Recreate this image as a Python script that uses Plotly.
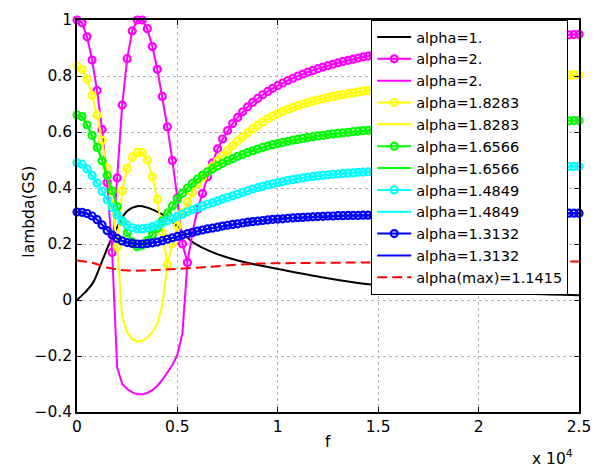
import plotly.graph_objects as go

# frequency samples (Hz) for marker curves, step 250
F = list(range(0, 25001, 250))

MAG_UP = [1.000, 0.990, 0.940, 0.857, 0.748, 0.609, 0.420, 0.170, 0.436, 0.696,
          0.862, 0.961, 1.000, 1.000, 0.969, 0.905, 0.824, 0.727, 0.618, 0.498,
          0.364, 0.200, 0.134, 0.240, 0.324, 0.380, 0.440, 0.490, 0.540, 0.575,
          0.605, 0.630, 0.652, 0.672, 0.690, 0.706, 0.720, 0.733, 0.745, 0.756,
          0.766, 0.775, 0.784, 0.792, 0.800, 0.807, 0.814, 0.820, 0.826, 0.832,
          0.837, 0.842, 0.847, 0.852, 0.856, 0.860, 0.864, 0.868, 0.871, 0.875,
          0.878, 0.881, 0.884, 0.887, 0.890, 0.893, 0.895, 0.898, 0.900, 0.903,
          0.905, 0.907, 0.909, 0.911, 0.913, 0.915, 0.917, 0.919, 0.921, 0.922,
          0.924, 0.926, 0.927, 0.929, 0.930, 0.932, 0.933, 0.934, 0.936, 0.937,
          0.938, 0.939, 0.941, 0.942, 0.943, 0.944, 0.945, 0.946, 0.947, 0.948, 0.949]
MAG_LOW_F = F[7:23]
MAG_LOW = [0.170, -0.240, -0.300, -0.318, -0.330, -0.337, -0.337, -0.332,
           -0.322, -0.306, -0.285, -0.260, -0.232, -0.195, -0.120, 0.134]

YEL_UP = [0.836, 0.824, 0.789, 0.731, 0.661, 0.570, 0.470, 0.340, 0.190, 0.390,
          0.470, 0.510, 0.527, 0.527, 0.500, 0.440, 0.360, 0.240, 0.126, 0.200,
          0.265, 0.312, 0.350, 0.384, 0.415, 0.437, 0.458, 0.478, 0.497, 0.516,
          0.534, 0.551, 0.567, 0.582, 0.597, 0.611, 0.624, 0.636, 0.647, 0.657,
          0.666, 0.674, 0.681, 0.688, 0.694, 0.700, 0.705, 0.710, 0.715, 0.719,
          0.723, 0.727, 0.731, 0.734, 0.737, 0.740, 0.743, 0.746, 0.748, 0.751,
          0.753, 0.755, 0.757, 0.759, 0.761, 0.763, 0.765, 0.767, 0.768, 0.770,
          0.772, 0.773, 0.775, 0.776, 0.778, 0.779, 0.780, 0.782, 0.783, 0.784,
          0.785, 0.787, 0.788, 0.789, 0.790, 0.791, 0.792, 0.793, 0.794, 0.795,
          0.796, 0.797, 0.798, 0.799, 0.800, 0.800, 0.801, 0.802, 0.803, 0.804, 0.804]
YEL_LOW_F = F[8:19]
YEL_LOW = [0.190, -0.060, -0.115, -0.140, -0.148, -0.146, -0.135, -0.115, -0.085, -0.020, 0.126]

GRN = [0.661, 0.655, 0.625, 0.588, 0.545, 0.497, 0.445, 0.390, 0.333, 0.281,
       0.240, 0.208, 0.190, 0.196, 0.212, 0.232, 0.256, 0.283, 0.310, 0.336,
       0.360, 0.381, 0.400, 0.417, 0.432, 0.446, 0.458, 0.469, 0.479, 0.488,
       0.497, 0.505, 0.513, 0.520, 0.527, 0.533, 0.539, 0.545, 0.550, 0.555,
       0.559, 0.563, 0.567, 0.571, 0.574, 0.577, 0.580, 0.583, 0.586, 0.588,
       0.591, 0.593, 0.595, 0.597, 0.599, 0.601, 0.603, 0.605, 0.606, 0.608,
       0.609, 0.611, 0.612, 0.613, 0.615, 0.616, 0.617, 0.618, 0.619, 0.620,
       0.621, 0.622, 0.623, 0.624, 0.625, 0.626, 0.627, 0.628, 0.628, 0.629,
       0.630, 0.631, 0.631, 0.632, 0.633, 0.633, 0.634, 0.635, 0.635, 0.636,
       0.636, 0.637, 0.637, 0.638, 0.638, 0.639, 0.639, 0.640, 0.640, 0.641, 0.641]

CYN = [0.490, 0.485, 0.468, 0.445, 0.418, 0.388, 0.358, 0.330, 0.304, 0.283,
       0.268, 0.258, 0.254, 0.254, 0.257, 0.262, 0.268, 0.275, 0.283, 0.291,
       0.299, 0.307, 0.315, 0.322, 0.329, 0.336, 0.342, 0.348, 0.354, 0.360,
       0.366, 0.372, 0.378, 0.384, 0.390, 0.396, 0.401, 0.406, 0.411, 0.415,
       0.419, 0.423, 0.427, 0.430, 0.433, 0.436, 0.439, 0.441, 0.443, 0.445,
       0.447, 0.449, 0.450, 0.452, 0.453, 0.454, 0.456, 0.457, 0.458, 0.459,
       0.460, 0.461, 0.462, 0.462, 0.463, 0.464, 0.465, 0.465, 0.466, 0.467,
       0.467, 0.468, 0.468, 0.469, 0.469, 0.470, 0.470, 0.471, 0.471, 0.472,
       0.472, 0.472, 0.473, 0.473, 0.474, 0.474, 0.474, 0.475, 0.475, 0.475,
       0.475, 0.476, 0.476, 0.476, 0.476, 0.477, 0.477, 0.477, 0.477, 0.477, 0.477]

BLU = [0.314, 0.313, 0.309, 0.300, 0.287, 0.268, 0.248, 0.232, 0.220, 0.211,
       0.205, 0.202, 0.200, 0.200, 0.202, 0.204, 0.207, 0.212, 0.217, 0.222,
       0.227, 0.232, 0.237, 0.242, 0.246, 0.250, 0.254, 0.257, 0.260, 0.264,
       0.267, 0.270, 0.272, 0.275, 0.278, 0.280, 0.282, 0.284, 0.286, 0.288,
       0.289, 0.290, 0.292, 0.293, 0.294, 0.295, 0.296, 0.297, 0.298, 0.299,
       0.300, 0.300, 0.301, 0.301, 0.302, 0.302, 0.302, 0.303, 0.303, 0.303,
       0.304, 0.304, 0.304, 0.305, 0.305, 0.305, 0.305, 0.306, 0.306, 0.306,
       0.306, 0.307, 0.307, 0.307, 0.307, 0.307, 0.308, 0.308, 0.308, 0.308,
       0.308, 0.308, 0.309, 0.309, 0.309, 0.309, 0.309, 0.309, 0.309, 0.309,
       0.310, 0.310, 0.310, 0.310, 0.310, 0.310, 0.310, 0.310, 0.310, 0.310, 0.310]

BLACK_F = [0, 400, 800, 1200, 1600, 2000, 2500, 3000, 3500, 4000, 4500, 5000,
           5700, 6500, 7300, 8000, 9000, 10000, 12000, 14400, 17000, 20000, 22500, 25000]
BLACK_V = [0.0, 0.027, 0.062, 0.13, 0.2, 0.26, 0.318, 0.335, 0.33, 0.315, 0.295, 0.262,
           0.210, 0.178, 0.156, 0.141, 0.125, 0.111, 0.084, 0.057, 0.042, 0.030, 0.022, 0.017]

RED_F = [0, 800, 1600, 2400, 3200, 4000, 5000, 6500, 8000, 9000, 11000, 14400, 18000, 21500, 25000]
RED_V = [0.141, 0.132, 0.114, 0.106, 0.105, 0.107, 0.111, 0.118, 0.126, 0.130, 0.132, 0.134,
         0.135, 0.136, 0.1375]

NAMES = ["alpha=2.", "alpha=1.8283", "alpha=1.6566", "alpha=1.4849", "alpha=1.3132"]
COLORS = ["#FF00FF", "#FFFF00", "#00FF00", "#00FFFF", "#0000FF"]

FONT = "DejaVu Sans"
LW = 2

fig = go.Figure()
fig.add_trace(go.Scatter(x=BLACK_F, y=BLACK_V, mode="lines", name="alpha=1.",
                         line=dict(color="black", width=LW, shape="spline")))

uppers = [MAG_UP, YEL_UP, GRN, CYN, BLU]
lowers = [(MAG_LOW_F, MAG_LOW), (YEL_LOW_F, YEL_LOW), (F, GRN), (F, CYN), (F, BLU)]
for name, col, up, (lf, lv) in zip(NAMES, COLORS, uppers, lowers):
    fig.add_trace(go.Scatter(x=F, y=up, mode="lines+markers", name=name, cliponaxis=False,
                             line=dict(color=col, width=LW),
                             marker=dict(symbol="circle-open", size=7, color=col,
                                         line=dict(color=col, width=2.2))))
    fig.add_trace(go.Scatter(x=lf, y=lv, mode="lines", name=name,
                             line=dict(color=col, width=LW)))

fig.add_trace(go.Scatter(x=RED_F, y=RED_V, mode="lines", name="alpha(max)=1.1415",
                         line=dict(color="#FF0000", width=LW, dash="10px,5px", shape="spline")))

axis_common = dict(showline=True, linecolor="black", linewidth=1.5, mirror="ticks",
                   ticks="inside", ticklen=5, tickwidth=1, tickcolor="black",
                   showgrid=True, gridcolor="#b4b4b4", griddash="dot", gridwidth=1,
                   zeroline=False, tickfont=dict(family=FONT, size=15.5, color="black"))

X_TICKS = [0, 5000, 10000, 15000, 20000, 25000]
X_LABELS = ["0", "0.5", "1", "1.5", "2", "2.5"]
Y_TICKS = [-0.4, -0.2, 0, 0.2, 0.4, 0.6, 0.8, 1.0]
Y_LABELS = ["\u22120.4", "\u22120.2", "0", "0.2", "0.4", "0.6", "0.8", "1"]

fig.update_xaxes(range=[0, 25000], tickvals=X_TICKS, ticktext=X_LABELS, **axis_common)
fig.update_yaxes(range=[-0.4, 1.0], tickvals=Y_TICKS, ticktext=Y_LABELS, **axis_common)

fig.update_layout(
    width=602, height=469,
    margin=dict(l=77, r=13, t=11, b=57),
    paper_bgcolor="white", plot_bgcolor="white",
    font=dict(family=FONT, size=15, color="black"),
    showlegend=True,
    legend=dict(x=0.9785, xanchor="right", y=1.0, yanchor="top",
                bgcolor="white", bordercolor="black", borderwidth=1,
                font=dict(family=FONT, size=14.5, color="black"),
                itemwidth=34, tracegroupgap=0),
    annotations=[
        dict(text="lambda(GS)", textangle=-90, xref="paper", yref="paper",
             x=-0.0957, y=0.511, xanchor="center", yanchor="middle", showarrow=False,
             font=dict(family=FONT, size=15.5, color="black")),
        dict(text="f", xref="paper", yref="paper", x=0.5, y=-0.077,
             xanchor="center", yanchor="middle", showarrow=False,
             font=dict(family=FONT, size=15.5, color="black")),
        dict(text="x 10<sup>4</sup>", xref="paper", yref="paper", x=0.992, y=-0.115,
             xanchor="right", yanchor="middle", showarrow=False,
             font=dict(family=FONT, size=15.5, color="black")),
    ],
)

fig.write_html("out.html")
